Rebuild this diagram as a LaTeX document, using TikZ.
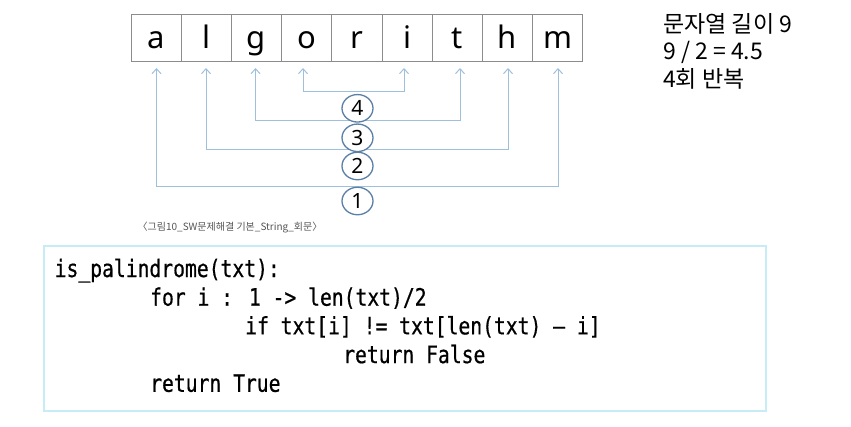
\documentclass[tikz,border=0pt]{standalone}
\usepackage{fontspec}
\setmainfont{Noto Sans}
\newfontfamily\kr{Noto Sans CJK KR}
\newfontfamily\code[FakeStretch=0.82,FakeBold=0.6]{DejaVu Sans Mono}
\usetikzlibrary{arrows.meta,shapes.geometric}
\definecolor{cellline}{HTML}{8C8C8C}
\definecolor{bracol}{HTML}{9EC0DC}
\definecolor{circol}{HTML}{5B7FA6}
\definecolor{boxcol}{HTML}{C6ECF6}
\definecolor{capcol}{HTML}{555555}
\newcommand{\us}{\char95\relax}
\tikzset{
  cell/.style={draw=cellline, line width=1pt, minimum width=50.2pt, minimum height=47.5pt,
    inner sep=0pt, font=\fontsize{31}{31}\selectfont, text height=22pt, text depth=1.5pt},
  bra/.style={draw=bracol, line width=1pt, {Straight Barb[length=5pt,width=9pt]}-{Straight Barb[length=5pt,width=9pt]}},
  num/.style={ellipse, draw=circol, line width=1.3pt, fill=white, minimum width=31pt,
    minimum height=27.5pt, inner sep=0pt, font=\fontsize{21}{21}\selectfont},
  codeline/.style={anchor=base west, inner sep=0pt, font=\code\fontsize{24}{24}\selectfont},
  krtext/.style={anchor=base west, inner sep=0pt, font=\kr\fontsize{23}{23}\selectfont}
}
\begin{document}
\begin{tikzpicture}[x=1pt,y=-1pt]
\useasboundingbox (0,0) rectangle (851,426);
% cells
\foreach \ch [count=\i] in {a,l,g,o,r,i,t,h,m}{
  \node[cell] (c\i) at ({131+50.2*(\i-1)+25.1},37.75) {\ch};
}
% bracket levels
\coordinate (L4) at (0,91);
\coordinate (L3) at (0,120);
\coordinate (L2) at (0,149.3);
\coordinate (L1) at (0,186);
% arrow tips
\coordinate (t1) at (156.5,68);
\coordinate (t2) at (206,68);
\coordinate (t3) at (255.5,68);
\coordinate (t4) at (303,68);
\coordinate (t6) at (404,68);
\coordinate (t7) at (460,68);
\coordinate (t8) at (508,68);
\coordinate (t9) at (558,68);
\draw[bra] (t1) -- (t1 |- L1) -| (t9);
\draw[bra] (t2) -- (t2 |- L2) -| (t8);
\draw[bra] (t3) -- (t3 |- L3) -| (t7);
\draw[bra] (t4) -- (t4 |- L4) -| (t6);
% numbered circles
\node[num] (n4) at (357.5,108.3) {4};
\node[num] (n3) at (357.5,137.8) {3};
\node[num] (n2) at (357.5,166) {2};
\node[num] (n1) at (357.5,201) {1};
% right text
\node[krtext] (r1) at (663,32) {문자열 길이 9};
\node[krtext] (r2) at (663,59.5) {9 / 2 = 4.5};
\node[krtext] (r3) at (663,87) {4회 반복};
% caption
\node[font=\kr\fontsize{10}{10}\selectfont, text=capcol, inner sep=0pt] (cap) at (230,228) {〈그림10\us SW문제해결 기본\us String\us 회문〉};
% code box
\draw[draw=boxcol, line width=2pt] (44,245.5) rectangle (765.5,411);
\node[codeline] (k1) at (54.5,277) {is\us palindrome(txt):};
\node[codeline] (k2) at (150,305.7) {for i : 1 -> len(txt)/2};
\node[codeline] (k3) at (245,334.4) {if txt[i] != txt[len(txt) – i]};
\node[codeline] (k4) at (343,363.1) {return False};
\node[codeline] (k5) at (150,391.8) {return True};
\end{tikzpicture}
\end{document}
